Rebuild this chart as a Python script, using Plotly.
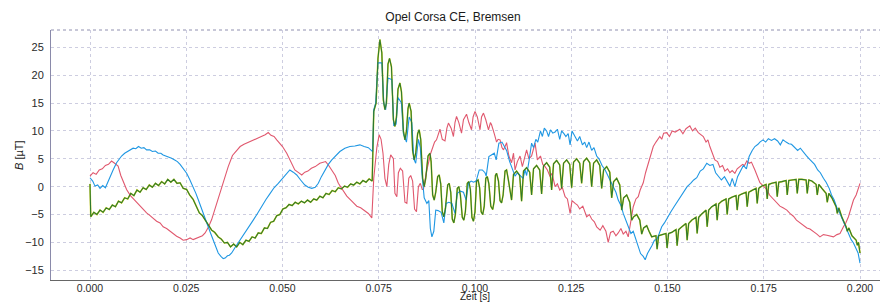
import plotly.graph_objects as go

TITLE = "Opel Corsa CE, Bremsen"
X_LABEL = "Zeit [s]"
Y_LABEL = "<i>B</i> [µT]"
X_TICKS = [0.000, 0.025, 0.050, 0.075, 0.100, 0.125, 0.150, 0.175, 0.200]
Y_TICKS = [-15, -10, -5, 0, 5, 10, 15, 20, 25]

# (time [s], B [µT])
red = [
    (0.0000, 1.9), (0.0008, 2.5), (0.0016, 2.2), (0.0024, 3.0), (0.0032, 3.2), (0.0040, 3.8),
    (0.0048, 4.0), (0.0056, 4.6), (0.0064, 4.2), (0.0073, 3.7), (0.0080, 2.0), (0.0087, 0.8),
    (0.0095, -0.5), (0.0105, -1.6), (0.0113, -2.2), (0.0121, -2.9), (0.0130, -3.4), (0.0139, -4.2),
    (0.0147, -4.7), (0.0156, -5.2), (0.0165, -5.7), (0.0173, -6.2), (0.0182, -6.5), (0.0190, -7.2),
    (0.0199, -7.5), (0.0208, -8.0), (0.0216, -8.4), (0.0225, -8.9), (0.0234, -9.2), (0.0242, -9.6),
    (0.0251, -9.5), (0.0260, -9.2), (0.0268, -9.5), (0.0277, -9.2), (0.0285, -9.0), (0.0292, -8.8),
    (0.0299, -8.3), (0.0308, -7.2), (0.0316, -5.9), (0.0327, -3.5), (0.0338, -1.1), (0.0348, 1.3),
    (0.0359, 3.6), (0.0370, 5.6), (0.0380, 6.5), (0.0390, 7.2), (0.0400, 7.6), (0.0412, 8.0),
    (0.0424, 8.4), (0.0435, 8.8), (0.0445, 9.0), (0.0455, 9.3), (0.0463, 9.7), (0.0470, 9.2),
    (0.0478, 9.0), (0.0485, 8.4), (0.0492, 7.8), (0.0500, 7.2), (0.0511, 6.0), (0.0520, 4.6),
    (0.0527, 3.8), (0.0532, 3.0), (0.0540, 2.6), (0.0550, 2.1), (0.0558, 2.6), (0.0566, 2.8),
    (0.0575, 3.3), (0.0585, 3.6), (0.0597, 4.2), (0.0605, 4.4), (0.0612, 4.5), (0.0620, 3.8),
    (0.0628, 3.0), (0.0637, 2.0), (0.0645, 0.6), (0.0655, -0.5), (0.0667, -1.7), (0.0680, -2.6),
    (0.0693, -3.5), (0.0703, -3.8), (0.0712, -4.2), (0.0723, -4.8), (0.0732, -5.6),
    (0.0737, 1.5), (0.0745, 7.0), (0.0751, 9.3), (0.0756, 8.5), (0.0761, 6.0), (0.0766, 1.5),
    (0.0771, 0.0), (0.0776, 4.0), (0.0781, 5.7), (0.0788, 5.0), (0.0792, -1.2), (0.0797, -1.8),
    (0.0801, 2.5), (0.0806, 3.3), (0.0812, 2.8), (0.0818, -2.8), (0.0823, -3.0), (0.0828, 1.5),
    (0.0833, 2.0), (0.0838, 1.0), (0.0843, -4.0), (0.0848, -4.5), (0.0853, 0.0), (0.0858, 0.6),
    (0.0863, -0.5), (0.0866, -0.5), (0.0875, 3.0), (0.0885, 6.0), (0.0895, 8.0), (0.0900, 8.4),
    (0.0905, 9.5), (0.0909, 10.3), (0.0915, 8.5), (0.0922, 8.2), (0.0927, 10.5), (0.0931, 11.4),
    (0.0938, 10.5), (0.0944, 9.0), (0.0948, 11.5), (0.0952, 12.6), (0.0958, 11.5), (0.0965, 9.6),
    (0.0970, 12.0), (0.0978, 13.0), (0.0984, 11.5), (0.0991, 10.2), (0.0995, 12.5), (0.1000, 13.5),
    (0.1006, 12.5), (0.1013, 10.2), (0.1017, 12.5), (0.1022, 13.2), (0.1028, 12.0), (0.1035, 10.2),
    (0.1040, 11.5), (0.1043, 11.1), (0.1050, 9.5), (0.1056, 8.0), (0.1060, 8.5), (0.1065, 8.4),
    (0.1070, 7.0), (0.1074, 6.6), (0.1080, 7.5), (0.1082, 7.9), (0.1088, 5.5), (0.1095, 4.3),
    (0.1100, 6.0), (0.1104, 3.0), (0.1110, 4.5), (0.1117, 5.5), (0.1123, 3.6), (0.1128, 5.0),
    (0.1134, 6.6), (0.1140, 5.0), (0.1147, 5.5), (0.1156, 7.8), (0.1162, 4.8), (0.1170, 5.5),
    (0.1176, 4.0), (0.1182, 3.6), (0.1188, 3.0), (0.1195, 1.8), (0.1200, 2.4), (0.1208, 0.0),
    (0.1214, 0.5), (0.1220, -0.6), (0.1227, -0.2), (0.1234, -1.8), (0.1240, -2.2), (0.1247, -4.8),
    (0.1252, -2.5), (0.1260, -3.0), (0.1266, -3.3), (0.1272, -4.0), (0.1280, -3.5), (0.1290, -5.4),
    (0.1297, -5.0), (0.1303, -5.8), (0.1310, -6.3), (0.1316, -7.2), (0.1325, -7.8), (0.1332, -7.0),
    (0.1340, -8.0), (0.1346, -10.0), (0.1352, -8.2), (0.1359, -8.0), (0.1366, -8.8), (0.1372, -8.3),
    (0.1379, -7.5), (0.1385, -8.5), (0.1392, -8.0), (0.1398, -9.0), (0.1404, -6.5), (0.1411, -3.6),
    (0.1418, -2.2), (0.1424, -1.8), (0.1429, -0.6), (0.1437, 0.7), (0.1443, 2.5), (0.1450, 4.3),
    (0.1456, 5.5), (0.1463, 7.2), (0.1470, 8.0), (0.1480, 9.0), (0.1485, 8.5), (0.1490, 9.6),
    (0.1498, 9.7), (0.1505, 9.0), (0.1512, 10.0), (0.1520, 9.8), (0.1532, 10.3), (0.1540, 9.5),
    (0.1548, 10.4), (0.1558, 10.9), (0.1565, 10.0), (0.1572, 10.5), (0.1580, 9.7), (0.1587, 9.4),
    (0.1593, 9.0), (0.1600, 8.0), (0.1605, 8.4), (0.1610, 7.2), (0.1617, 6.0), (0.1623, 4.8),
    (0.1630, 4.5), (0.1636, 3.5), (0.1643, 3.8), (0.1649, 2.8), (0.1656, 3.2), (0.1662, 2.5),
    (0.1668, 2.9), (0.1675, 2.4), (0.1681, 3.2), (0.1688, 3.6), (0.1695, 4.0), (0.1700, 3.8),
    (0.1706, 4.6), (0.1712, 4.2), (0.1718, 4.4), (0.1727, 3.0), (0.1733, 2.0), (0.1740, 0.7),
    (0.1748, 0.2), (0.1758, -0.5), (0.1765, -1.5), (0.1775, -2.3), (0.1783, -2.8), (0.1792, -3.5),
    (0.1800, -3.8), (0.1810, -4.2), (0.1818, -4.8), (0.1827, -5.3), (0.1835, -6.0), (0.1844, -6.5),
    (0.1852, -7.0), (0.1862, -7.4), (0.1870, -7.6), (0.1879, -8.0), (0.1888, -8.5), (0.1896, -9.0),
    (0.1905, -8.6), (0.1914, -8.7), (0.1922, -8.8), (0.1931, -9.0), (0.1940, -8.6), (0.1948, -8.4),
    (0.1957, -7.2), (0.1963, -6.5), (0.1970, -5.4), (0.1977, -4.0), (0.1983, -2.4), (0.1990, -1.5),
    (0.1995, -0.5), (0.2000, 0.6),
]

blue = [
    (0.0000, 1.6), (0.0007, 1.0), (0.0013, 0.1), (0.0020, 0.3), (0.0026, -0.3), (0.0033, 0.2),
    (0.0040, -0.2), (0.0048, 1.2), (0.0055, 2.2), (0.0060, 3.0), (0.0069, 4.3), (0.0076, 5.0),
    (0.0082, 5.5), (0.0090, 6.0), (0.0097, 6.3), (0.0104, 6.6), (0.0112, 6.9), (0.0119, 6.8),
    (0.0126, 7.2), (0.0133, 6.9), (0.0140, 7.0), (0.0147, 6.6), (0.0155, 6.6), (0.0162, 6.3),
    (0.0170, 6.4), (0.0177, 6.0), (0.0184, 6.0), (0.0190, 5.7), (0.0198, 5.5), (0.0205, 5.4),
    (0.0212, 5.1), (0.0220, 4.8), (0.0227, 4.5), (0.0234, 4.0), (0.0242, 3.3), (0.0251, 2.4),
    (0.0259, 1.3), (0.0268, 0.0), (0.0275, -1.2), (0.0281, -2.3), (0.0288, -3.7), (0.0294, -5.0),
    (0.0300, -6.0), (0.0307, -7.2), (0.0313, -8.3), (0.0320, -9.5), (0.0327, -10.8), (0.0333, -11.9),
    (0.0340, -12.5), (0.0346, -12.9), (0.0351, -12.8), (0.0357, -12.4), (0.0362, -12.3), (0.0368, -11.9),
    (0.0376, -11.0), (0.0385, -10.1), (0.0394, -9.2), (0.0403, -8.3), (0.0413, -7.1), (0.0424, -6.0),
    (0.0435, -4.8), (0.0446, -3.5), (0.0457, -2.3), (0.0468, -1.2), (0.0478, -0.2), (0.0489, 0.6),
    (0.0500, 1.5), (0.0511, 2.4), (0.0519, 3.0), (0.0528, 2.6), (0.0537, 2.1), (0.0547, 1.2),
    (0.0558, 0.3), (0.0567, -0.1), (0.0576, -0.3), (0.0585, -0.1), (0.0593, 0.6), (0.0601, 1.8),
    (0.0610, 3.0), (0.0619, 4.0), (0.0628, 4.8), (0.0638, 5.6), (0.0649, 6.3), (0.0662, 6.9),
    (0.0675, 7.2), (0.0688, 7.3), (0.0701, 7.5), (0.0712, 7.2), (0.0723, 7.0), (0.0734, 6.3),
    (0.0737, 13.8), (0.0742, 15.0), (0.0748, 22.2), (0.0758, 22.2), (0.0763, 15.0), (0.0768, 13.8),
    (0.0774, 19.5), (0.0784, 19.2), (0.0789, 11.0), (0.0795, 11.2), (0.0800, 16.0), (0.0809, 15.0),
    (0.0814, 9.5), (0.0822, 8.0), (0.0829, 12.5), (0.0836, 11.5), (0.0841, 5.0), (0.0846, 4.2),
    (0.0853, 8.5), (0.0858, 7.0), (0.0862, 2.5), (0.0868, -2.0), (0.0875, -3.0), (0.0880, -2.5),
    (0.0884, -7.5), (0.0888, -9.0), (0.0893, -8.0), (0.0898, -4.2), (0.0904, -4.3), (0.0912, -4.6),
    (0.0919, -6.5), (0.0925, -3.0), (0.0932, -2.8), (0.0940, -3.0), (0.0948, -4.8), (0.0954, -1.2),
    (0.0962, -0.8), (0.0970, -1.0), (0.0977, -2.4), (0.0983, 0.6), (0.0990, 1.0), (0.0996, 0.8),
    (0.1003, 1.0), (0.1011, 3.0), (0.1019, 3.0), (0.1026, 2.5), (0.1029, 1.9), (0.1036, 5.4),
    (0.1044, 5.8), (0.1050, 6.0), (0.1055, 4.8), (0.1062, 7.8), (0.1070, 8.0), (0.1077, 7.0),
    (0.1082, 6.5), (0.1090, 4.5), (0.1097, 3.0), (0.1104, 1.9), (0.1110, 2.5), (0.1117, 2.0),
    (0.1125, 1.5), (0.1130, 3.0), (0.1134, 2.0), (0.1140, 4.5), (0.1147, 7.8), (0.1152, 7.0),
    (0.1158, 8.5), (0.1163, 8.0), (0.1170, 10.0), (0.1175, 9.0), (0.1180, 10.5), (0.1186, 10.0),
    (0.1191, 9.0), (0.1196, 10.2), (0.1202, 9.6), (0.1208, 9.8), (0.1214, 10.3), (0.1220, 8.5),
    (0.1225, 10.0), (0.1231, 9.5), (0.1236, 9.0), (0.1242, 9.5), (0.1247, 7.5), (0.1252, 10.0),
    (0.1260, 9.0), (0.1266, 8.2), (0.1272, 9.0), (0.1279, 7.5), (0.1285, 8.0), (0.1290, 7.0),
    (0.1296, 8.0), (0.1303, 6.5), (0.1309, 7.0), (0.1316, 5.5), (0.1322, 5.0), (0.1330, 3.8),
    (0.1338, 3.0), (0.1346, 1.9), (0.1352, 1.0), (0.1359, 0.0), (0.1366, -1.0), (0.1372, -2.4),
    (0.1380, -3.5), (0.1385, -4.8), (0.1392, -6.0), (0.1398, -7.2), (0.1405, -8.4), (0.1411, -8.0),
    (0.1418, -9.5), (0.1424, -10.8), (0.1430, -12.0), (0.1437, -12.5), (0.1442, -13.1), (0.1448, -12.0),
    (0.1454, -11.3), (0.1460, -10.5), (0.1466, -9.6), (0.1472, -9.5), (0.1478, -8.5), (0.1485, -7.2),
    (0.1492, -6.5), (0.1500, -5.4), (0.1508, -4.6), (0.1517, -3.6), (0.1525, -2.8), (0.1534, -1.8),
    (0.1542, -1.0), (0.1551, 0.0), (0.1560, 0.6), (0.1568, 1.2), (0.1576, 1.6), (0.1585, 2.8),
    (0.1593, 3.2), (0.1602, 4.2), (0.1610, 3.8), (0.1618, 4.0), (0.1625, 2.5), (0.1632, 1.8),
    (0.1640, 1.2), (0.1648, 1.8), (0.1655, 0.8), (0.1662, 0.1), (0.1668, 1.5), (0.1675, 0.0),
    (0.1682, 1.8), (0.1690, 3.0), (0.1697, 3.8), (0.1705, 3.2), (0.1712, 5.4), (0.1720, 6.5),
    (0.1727, 7.2), (0.1735, 7.6), (0.1740, 8.0), (0.1748, 8.4), (0.1755, 8.0), (0.1762, 8.6),
    (0.1770, 8.3), (0.1778, 8.6), (0.1786, 8.2), (0.1793, 7.5), (0.1800, 8.4), (0.1808, 8.0),
    (0.1815, 7.7), (0.1822, 7.6), (0.1830, 7.0), (0.1838, 6.5), (0.1845, 6.9), (0.1852, 6.2),
    (0.1860, 5.6), (0.1868, 5.0), (0.1875, 4.5), (0.1882, 4.0), (0.1890, 3.0), (0.1897, 2.5),
    (0.1905, 1.5), (0.1912, 0.8), (0.1920, -0.3), (0.1926, -1.5), (0.1933, -2.4), (0.1940, -3.8),
    (0.1948, -4.8), (0.1955, -6.0), (0.1962, -7.0), (0.1970, -8.4), (0.1977, -9.5), (0.1983, -10.1),
    (0.1990, -11.0), (0.1995, -11.9), (0.2000, -13.7),
]

green = [
    (0.0000, 0.5), (0.0002, -5.4), (0.0010, -4.6), (0.0018, -5.0), (0.0026, -4.2), (0.0034, -4.6),
    (0.0042, -3.8), (0.0050, -4.1), (0.0058, -3.3), (0.0066, -3.6), (0.0074, -2.6), (0.0082, -2.9),
    (0.0090, -2.0), (0.0098, -2.2), (0.0106, -1.2), (0.0114, -1.6), (0.0122, -0.6), (0.0130, -1.0),
    (0.0138, -0.2), (0.0146, -0.5), (0.0154, 0.3), (0.0162, -0.1), (0.0170, 0.6), (0.0178, 0.2),
    (0.0186, 0.9), (0.0194, 0.5), (0.0202, 1.3), (0.0210, 0.8), (0.0218, 1.3), (0.0226, 0.6),
    (0.0234, 0.7), (0.0242, -0.3), (0.0251, -0.5), (0.0259, -1.5), (0.0268, -2.3), (0.0276, -3.5),
    (0.0284, -4.7), (0.0292, -5.2), (0.0300, -6.0), (0.0308, -6.8), (0.0316, -7.8), (0.0324, -8.2),
    (0.0333, -9.0), (0.0341, -9.4), (0.0349, -10.1), (0.0357, -10.0), (0.0365, -10.8), (0.0373, -10.3),
    (0.0381, -10.8), (0.0389, -10.0), (0.0397, -10.4), (0.0405, -9.6), (0.0413, -9.8), (0.0421, -9.0),
    (0.0429, -9.2), (0.0437, -8.3), (0.0445, -8.4), (0.0453, -7.4), (0.0461, -7.5), (0.0469, -6.4),
    (0.0477, -6.2), (0.0485, -5.2), (0.0493, -5.0), (0.0501, -4.0), (0.0509, -3.8), (0.0517, -3.2),
    (0.0525, -3.4), (0.0533, -2.8), (0.0541, -3.1), (0.0549, -2.6), (0.0557, -2.9), (0.0565, -2.4),
    (0.0573, -2.8), (0.0581, -2.2), (0.0589, -2.4), (0.0597, -1.7), (0.0605, -2.0), (0.0613, -1.2),
    (0.0621, -1.4), (0.0629, -0.7), (0.0637, -0.9), (0.0645, -0.2), (0.0653, -0.4), (0.0661, 0.1),
    (0.0669, -0.1), (0.0677, 0.5), (0.0685, 0.3), (0.0693, 0.8), (0.0701, 0.5), (0.0709, 1.1),
    (0.0717, 0.8), (0.0725, 1.4), (0.0733, 1.0),
    (0.0737, 13.5), (0.0743, 15.0), (0.0748, 23.0), (0.0753, 26.4), (0.0758, 24.0), (0.0762, 15.5),
    (0.0766, 13.8), (0.0770, 15.0), (0.0774, 22.0), (0.0778, 23.0), (0.0783, 21.5), (0.0788, 12.0),
    (0.0792, 10.8), (0.0796, 12.5), (0.0800, 17.5), (0.0805, 18.6), (0.0809, 17.0), (0.0814, 10.0),
    (0.0818, 8.4), (0.0822, 10.0), (0.0826, 14.0), (0.0829, 15.0), (0.0834, 13.5), (0.0838, 6.5),
    (0.0842, 4.8), (0.0846, 6.0), (0.0851, 9.5), (0.0855, 10.2), (0.0859, 8.5), (0.0864, 1.5),
    (0.0868, 0.0), (0.0872, 1.5), (0.0878, 5.5), (0.0883, 6.0), (0.0886, 4.5), (0.0890, -1.5),
    (0.0894, -2.4), (0.0898, -1.0), (0.0903, 1.8), (0.0907, 2.1), (0.0911, 0.5), (0.0915, -4.5),
    (0.0919, -5.4), (0.0923, -4.0), (0.0929, 0.3), (0.0933, 0.6), (0.0937, -1.0), (0.0941, -5.8),
    (0.0945, -6.5), (0.0949, -5.0), (0.0954, -0.3), (0.0958, 0.0), (0.0962, -1.5), (0.0967, -5.5),
    (0.0971, -6.0), (0.0975, -4.5), (0.0980, 0.6), (0.0984, 0.9), (0.0988, -0.5), (0.0992, -5.5),
    (0.0996, -6.2), (0.1000, -4.5), (0.1004, 1.0), (0.1008, 1.2), (0.1012, -0.2), (0.1016, -4.5),
    (0.1020, -5.0), (0.1024, -3.5), (0.1028, 1.5), (0.1032, 1.8), (0.1036, 0.5), (0.1041, -3.5),
    (0.1046, -4.1), (0.1050, -2.5), (0.1053, 2.0), (0.1056, 2.4), (0.1061, 1.0), (0.1065, -2.5),
    (0.1069, -2.9), (0.1073, -1.5), (0.1078, 2.8), (0.1082, 3.0), (0.1086, 1.5),
    (0.1095, -2.4), (0.1100, 2.2), (0.1108, 2.8), (0.1116, 2.0),
    (0.1121, -2.6), (0.1126, 2.8), (0.1134, 3.4), (0.1142, 2.6),
    (0.1147, -1.5), (0.1152, 3.2), (0.1160, 3.8), (0.1168, 3.0),
    (0.1173, -1.3), (0.1178, 3.7), (0.1186, 4.3), (0.1194, 3.5),
    (0.1199, -0.6), (0.1204, 4.1), (0.1212, 4.7), (0.1220, 3.9),
    (0.1225, -0.3), (0.1230, 4.2), (0.1238, 4.8), (0.1246, 4.0),
    (0.1251, -0.2), (0.1256, 4.4), (0.1264, 5.0), (0.1272, 4.2),
    (0.1277, 0.6), (0.1282, 4.5), (0.1290, 5.1), (0.1298, 4.3),
    (0.1303, 0.0), (0.1308, 4.2), (0.1316, 4.8), (0.1324, 3.8),
    (0.1329, -0.3), (0.1334, 3.0), (0.1342, 3.6), (0.1350, 2.6),
    (0.1355, -2.0), (0.1360, 0.9), (0.1368, 1.5), (0.1376, 0.3),
    (0.1381, -4.2), (0.1386, -2.0), (0.1394, -1.5), (0.1402, -2.8),
    (0.1407, -6.0), (0.1412, -5.4), (0.1420, -5.0), (0.1428, -6.0),
    (0.1433, -8.5), (0.1438, -7.4), (0.1446, -7.0), (0.1452, -8.0),
    (0.1459, -9.0), (0.1470, -8.8), (0.1473, -11.2), (0.1477, -8.8),
    (0.1485, -8.6), (0.1496, -8.4), (0.1499, -11.0), (0.1503, -8.4),
    (0.1511, -8.2), (0.1522, -7.7), (0.1525, -10.6), (0.1529, -7.7),
    (0.1537, -7.2), (0.1548, -6.6), (0.1551, -9.6), (0.1555, -6.6),
    (0.1563, -6.0), (0.1574, -5.5), (0.1577, -8.4), (0.1581, -5.5),
    (0.1589, -4.9), (0.1600, -4.2), (0.1603, -7.2), (0.1607, -4.2),
    (0.1615, -3.6), (0.1626, -3.1), (0.1629, -6.0), (0.1633, -3.1),
    (0.1641, -2.6), (0.1652, -2.2), (0.1655, -5.0), (0.1659, -2.2),
    (0.1667, -1.9), (0.1678, -1.6), (0.1681, -4.2), (0.1685, -1.6),
    (0.1693, -1.3), (0.1704, -1.0), (0.1707, -3.6), (0.1711, -1.0),
    (0.1719, -0.7), (0.1730, -0.3), (0.1733, -3.0), (0.1737, -0.3),
    (0.1745, 0.1), (0.1756, 0.4), (0.1759, -2.2), (0.1763, 0.4),
    (0.1771, 0.6), (0.1782, 0.8), (0.1785, -1.8), (0.1789, 0.8),
    (0.1797, 0.9), (0.1808, 1.1), (0.1811, -1.5), (0.1815, 1.1),
    (0.1823, 1.2), (0.1834, 1.3), (0.1837, -1.2), (0.1841, 1.3),
    (0.1849, 1.3), (0.1860, 1.2), (0.1863, -1.2), (0.1867, 1.2),
    (0.1875, 1.0), (0.1886, 0.4), (0.1889, -1.5), (0.1893, 0.4),
    (0.1901, -0.3), (0.1912, -1.2), (0.1915, -2.8), (0.1919, -1.2),
    (0.1927, -2.0), (0.1938, -3.6), (0.1941, -4.8), (0.1945, -3.8),
    (0.1953, -5.5), (0.1964, -7.2), (0.1967, -8.0), (0.1971, -7.4),
    (0.1979, -8.8), (0.1990, -9.6), (0.1993, -10.5), (0.1996, -10.0),
    (0.2000, -11.9),
]

# the yellow channel lies almost exactly under the green one
yellow = green

series = [
    ("yellow", yellow, "#d8d41e", 1.6),
    ("red", red, "#e0586e", 1.1),
    ("blue", blue, "#1f97e3", 1.1),
    ("green", green, "#2e7a2e", 1.1),
]

fig = go.Figure()
for name, pts, color, width in series:
    fig.add_trace(go.Scatter(
        x=[p[0] for p in pts], y=[p[1] for p in pts], mode="lines", name=name,
        line=dict(color=color, width=width), showlegend=False, hoverinfo="skip",
    ))

# the page places the figure 8 px from its top-left corner
W, H = 880, 295
grid = "#cdcde0"
fig.update_layout(
    width=W, height=H,
    margin=dict(l=43, r=0, t=22, b=23),
    paper_bgcolor="white", plot_bgcolor="white",
    font=dict(family="Liberation Sans, Arial, sans-serif", size=11, color="#2a2a2a"),
    title=dict(text=TITLE, x=445 / W, xref="container", xanchor="center",
               y=1 - 8.5 / H, yref="container", yanchor="middle",
               font=dict(size=12, color="#1a1a1a")),
    xaxis=dict(range=[-0.01013, 0.20727], tickvals=X_TICKS, tickformat=".3f",
               showgrid=True, gridcolor=grid, griddash="dot", gridwidth=1,
               showline=True, linecolor="#666", linewidth=1, zeroline=False,
               ticks="", ticklabelstandoff=-2, tickfont=dict(size=10.5)),
    yaxis=dict(range=[-16.74, 28.1], tickvals=Y_TICKS,
               showgrid=True, gridcolor=grid, griddash="dot", gridwidth=1,
               showline=True, linecolor="#8a8aaa", linewidth=1, zeroline=False,
               ticks="", ticklabelstandoff=4),
)
fig.add_shape(type="line", xref="paper", yref="paper", x0=0, x1=1, y0=1, y1=1,
              line=dict(color="#9090b0", width=1, dash="dot"))
fig.add_annotation(text=X_LABEL, xref="paper", yref="paper", x=(475 - 51) / 837, y=0,
                   yshift=-22.5, showarrow=False, font=dict(size=10, color="#1a1a1a"),
                   xanchor="center", yanchor="bottom", borderpad=0)
fig.add_annotation(text=Y_LABEL, xref="paper", yref="paper", x=0, xshift=-32,
                   y=(280 - 155) / 250, showarrow=False, textangle=-90,
                   font=dict(size=11, color="#1a1a1a"), xanchor="center", yanchor="middle")

fig.write_html("out.html")
